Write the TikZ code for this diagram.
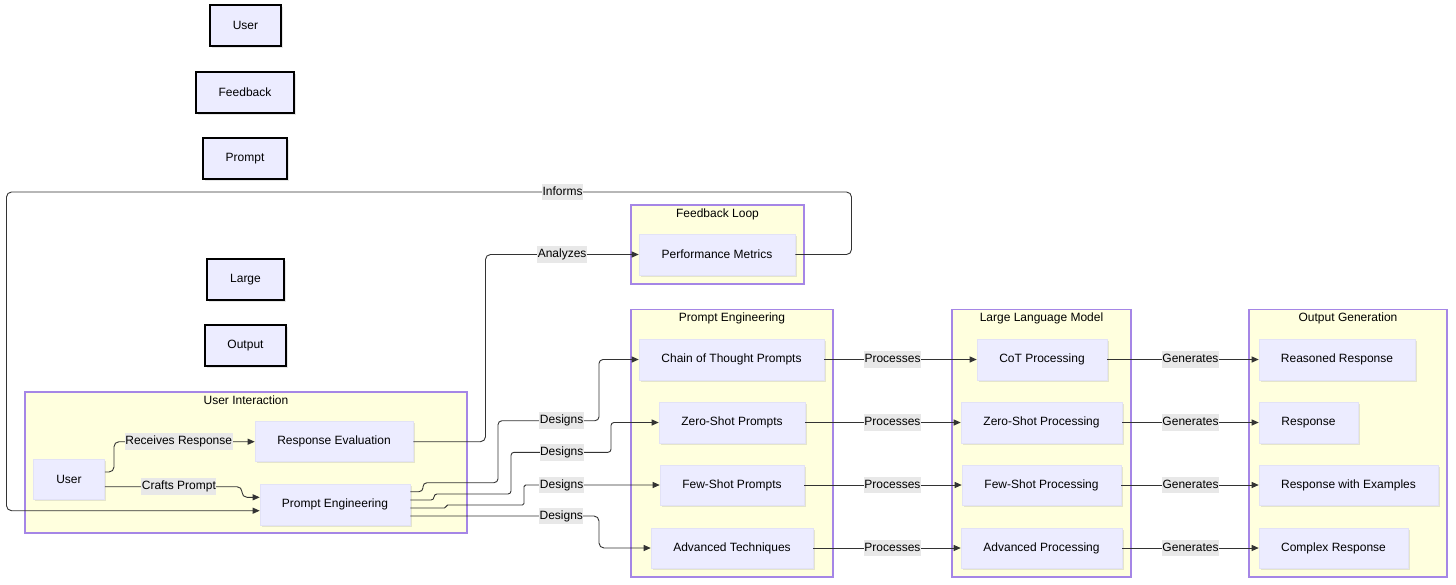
\documentclass[tikz,border=0pt]{standalone}
\usepackage{fontspec}
\setmainfont{Liberation Sans}
\usetikzlibrary{arrows.meta,shadows}
\definecolor{nodefill}{HTML}{ECECFF}
\definecolor{nodeline}{HTML}{E2E2F6}
\definecolor{clusterfill}{HTML}{FFFFDE}
\definecolor{clusterline}{HTML}{A586E6}
\definecolor{edgeline}{HTML}{333333}
\definecolor{lblfill}{HTML}{E8E8E8}
\begin{document}
\begin{tikzpicture}[x=1pt,y=-1pt,
  font=\fontsize{12}{14}\selectfont,
  proc/.style={fill=nodefill, draw=nodeline, line width=0.6pt, minimum height=40pt, inner sep=0pt,
    drop shadow={shadow xshift=1.5pt,shadow yshift=-1.5pt,opacity=0.2}},
  legend/.style={proc, draw=black, line width=1.8pt, minimum height=41pt},
  cluster/.style={fill=clusterfill, draw=clusterline, line width=1.4pt, inner sep=0pt},
  ctitle/.style={anchor=north, inner sep=0pt, yshift=-4pt},
  edge/.style={draw=edgeline, line width=0.9pt, rounded corners=5pt, -{Triangle[length=7pt,width=6pt]}},
  lbl/.style={fill=lblfill, inner xsep=0.5pt, inner ysep=2.5pt, text height=9pt, text depth=2.5pt, rounded corners=0pt}
]
\useasboundingbox (0,0) rectangle (1456,584);

% legend boxes
\node[legend, minimum width=71pt] (lUser) at (245.5,25.5) {User};
\node[legend, minimum width=98pt] (lFeedback) at (245,92.5) {Feedback};
\node[legend, minimum width=84pt] (lPrompt) at (245,158.5) {Prompt};
\node[legend, minimum width=77pt] (lLarge) at (245.5,279.5) {Large};
\node[legend, minimum width=81pt] (lOutput) at (245.5,345.5) {Output};

% clusters
\node[cluster, minimum width=442pt, minimum height=141pt] (cUI) at (246,462.5) {};
\node[ctitle] (tUI) at (cUI.north) {User Interaction};
\node[cluster, minimum width=173pt, minimum height=79pt] (cFL) at (717.5,244.5) {};
\node[ctitle] (tFL) at (cFL.north) {Feedback Loop};
\node[cluster, minimum width=202pt, minimum height=267.5pt] (cPE) at (732,443.25) {};
\node[ctitle] (tPE) at (cPE.north) {Prompt Engineering};
\node[cluster, minimum width=179pt, minimum height=267.5pt] (cLLM) at (1041.5,443.25) {};
\node[ctitle] (tLLM) at (cLLM.north) {Large Language Model};
\node[cluster, minimum width=198pt, minimum height=267.5pt] (cOG) at (1348,443.25) {};
\node[ctitle] (tOG) at (cOG.north) {Output Generation};

% nodes
\node[proc, minimum width=71pt] (user) at (69,479) {User};
\node[proc, minimum width=158pt] (re) at (334,441.7) {Response Evaluation};
\node[proc, minimum width=150pt, minimum height=41pt] (pe) at (335,504.5) {Prompt Engineering};
\node[proc, minimum width=156pt, minimum height=41pt] (pm) at (717,254.5) {Performance Metrics};

\node[proc, minimum width=185pt, minimum height=41pt] (cot) at (731.5,359.5) {Chain of Thought Prompts};
\node[proc, minimum width=146pt, minimum height=41pt] (zs) at (732,422.5) {Zero-Shot Prompts};
\node[proc, minimum width=144pt] (fs) at (732,485) {Few-Shot Prompts};
\node[proc, minimum width=162pt] (adv) at (732,548) {Advanced Techniques};

\node[proc, minimum width=130pt, minimum height=41pt] (cotp) at (1042,359.5) {CoT Processing};
\node[proc, minimum width=161pt, minimum height=41pt] (zsp) at (1041.5,422.5) {Zero-Shot Processing};
\node[proc, minimum width=159pt] (fsp) at (1041.5,485) {Few-Shot Processing};
\node[proc, minimum width=161pt] (advp) at (1041.5,548) {Advanced Processing};

\node[proc, minimum width=156pt, minimum height=41pt] (rr) at (1337,359.5) {Reasoned Response};
\node[proc, minimum width=99pt, minimum height=41pt] (resp) at (1308.5,422.5) {Response};
\node[proc, minimum width=179pt] (rwe) at (1348.5,485) {Response with Examples};
\node[proc, minimum width=149pt] (cr) at (1333.5,548) {Complex Response};

% edges in user interaction
\draw[edge] ([yshift=7pt]user.east) -| (114,441.7) -- node[lbl,pos=0.46]{Receives Response} (re.west);
\draw[edge] ([yshift=-7.7pt]user.east) -| node[lbl,pos=0.27]{Crafts Prompt} (242,497.3) -- ([yshift=7.2pt]pe.west);

% feedback
\draw[edge] (re.east) -| (485.5,254.5) -- node[lbl]{Analyzes} (pm.west);
\draw[edge] (pm.east) -| (851.5,192) -| node[lbl,pos=0.171]{Informs} (6.5,510.7) -- ([yshift=-6.2pt]pe.west);

% designs
\draw[edge, rounded corners=4pt] ([yshift=12.8pt]pe.east) -| (423,482.7) -| (498,420.7) -- node[lbl,pos=0.63]{Designs} (599,420.7) |- (cot.west);
\draw[edge, rounded corners=3pt] ([yshift=4.5pt]pe.east) -| (434,494) -| (511,452.3) -- node[lbl,pos=0.507]{Designs} (611,452.3) |- (zs.west);
\draw[edge, rounded corners=1.6pt] ([yshift=-3.5pt]pe.east) -| (446,505) -| (524,485) -- node[lbl,pos=0.277]{Designs} (fs.west);
\draw[edge] ([yshift=-11.5pt]pe.east) -- node[lbl,pos=0.8]{Designs} (599,516) |- (adv.west);

% processes
\draw[edge] (cot.east) -- node[lbl,pos=0.448]{Processes} (cotp.west);
\draw[edge] (zs.east) -- node[lbl,pos=0.561]{Processes} (zsp.west);
\draw[edge] (fs.east) -- node[lbl,pos=0.56]{Processes} (fsp.west);
\draw[edge] (adv.east) -- node[lbl,pos=0.537]{Processes} (advp.west);

% generates
\draw[edge] (cotp.east) -- node[lbl,pos=0.549]{Generates} (rr.west);
\draw[edge] (zsp.east) -- node[lbl,pos=0.5]{Generates} (resp.west);
\draw[edge] (fsp.east) -- node[lbl,pos=0.504]{Generates} (rwe.west);
\draw[edge] (advp.east) -- node[lbl,pos=0.5]{Generates} (cr.west);
\end{tikzpicture}
\end{document}
